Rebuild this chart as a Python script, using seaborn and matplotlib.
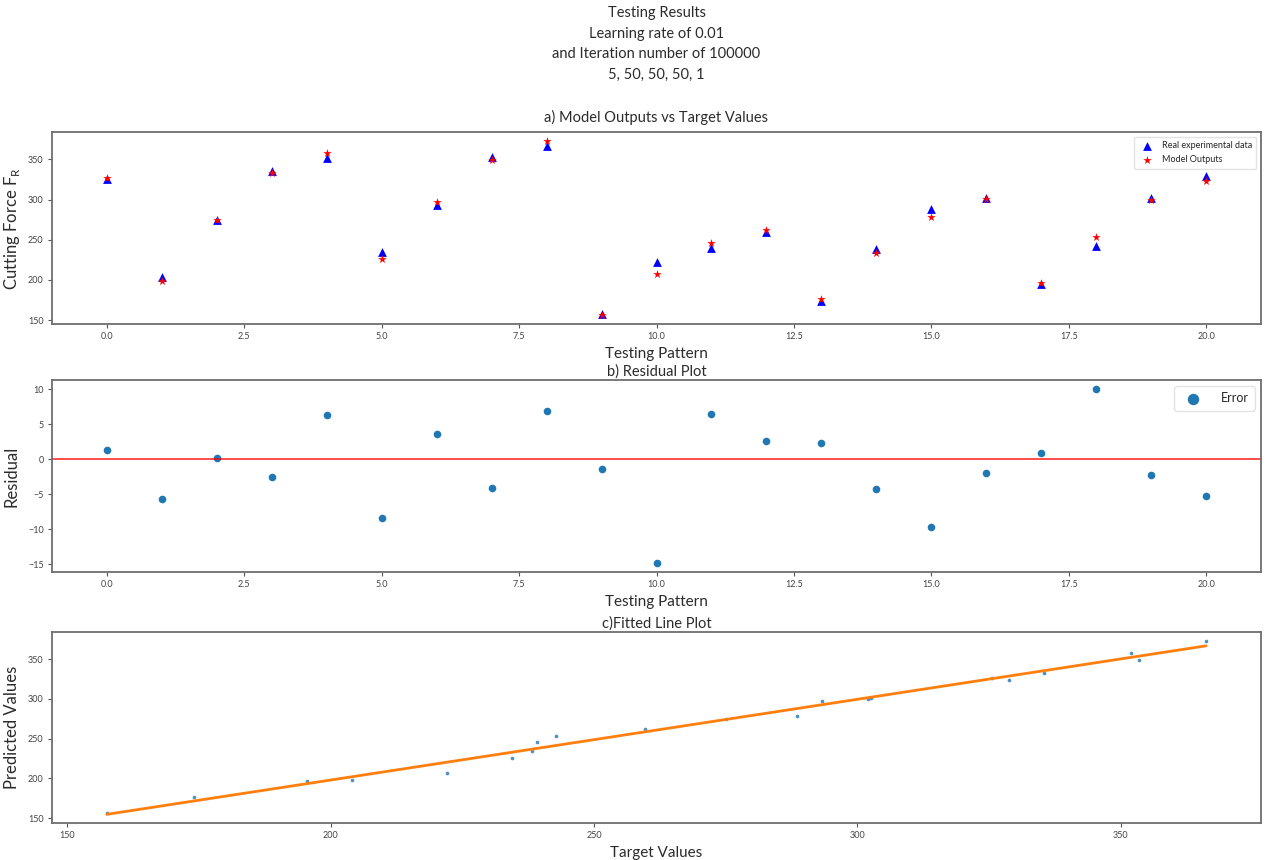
import matplotlib
matplotlib.use('Agg')
import matplotlib.pyplot as plt
import seaborn as sns

# ── data ────────────────────────────────────────────────────
pattern = list(range(21))
real_data = [325.5, 204.0, 275.0, 335.5, 352.0, 234.5, 293.3, 353.5, 366.2, 157.5,
             222.1, 239.2, 259.6, 174.0, 238.2, 288.6, 302.5, 195.5, 242.8, 302.1, 328.8]
model_out = [326.8, 198.3, 275.2, 332.9, 358.3, 226.1, 297.0, 349.4, 373.2, 156.1,
             207.2, 245.6, 262.2, 176.3, 233.9, 278.9, 300.6, 196.4, 252.9, 299.8, 323.6]
residual = [1.33, -5.67, 0.19, -2.57, 6.33, -8.38, 3.67, -4.10, 6.95, -1.38,
            -14.86, 6.43, 2.57, 2.33, -4.29, -9.67, -1.95, 0.90, 10.10, -2.29, -5.19]

title_lines = ["Testing Results", "Learning rate of 0.01",
               "and Iteration number of 100000", "5, 50, 50, 50, 1"]

sns.set_style('white')
plt.rcParams['font.family'] = ['Lato', 'DejaVu Sans']
plt.rcParams['axes.edgecolor'] = '#6e6e6e'
plt.rcParams['axes.linewidth'] = 1.3

TXT = '#2b2b2b'
W, H = 1268, 860
fig = plt.figure(figsize=(W / 100, H / 100), dpi=100)

def box(top, bottom, left=52, right=1261):
    return [left / W, 1 - bottom / H, (right - left) / W, (bottom - top) / H]

ax1 = fig.add_axes(box(132, 324))
ax2 = fig.add_axes(box(380, 572))
ax3 = fig.add_axes(box(632, 823))

# ── figure title ─────────────────────────────────────────────
cx = (52 + 1261) / 2 / W
for i, line in enumerate(title_lines):
    fig.text(cx, 1 - (13 + i * 20.7) / H, line, ha='center', va='center',
             fontsize=10.5, color=TXT)

# ── a) Model outputs vs target ──────────────────────────────
sns.scatterplot(x=pattern, y=real_data, marker='^', color='blue', s=40,
                linewidth=0, label='Real experimental data', ax=ax1)
sns.scatterplot(x=pattern, y=model_out, marker='*', color='red', s=40,
                linewidth=0, label='Model Outputs', ax=ax1)
ax1.set_title('a) Model Outputs vs Target Values', fontsize=10.5, color=TXT, pad=7)
ax1.set_xlabel('Testing Pattern', fontsize=11, color=TXT, labelpad=4)
ax1.set_ylabel('Cutting Force F$_\\mathregular{R}$', fontsize=12, color=TXT, labelpad=4)
ax1.legend(loc='upper right', fontsize=6.5, frameon=True, edgecolor='#dddddd',
           handletextpad=0.6, borderpad=0.5, labelspacing=0.6)

# ── b) Residual plot ────────────────────────────────────────
sns.scatterplot(x=pattern, y=residual, color='#1f77b4', s=30, linewidth=0,
                label='Error', ax=ax2)
ax2.axhline(0, color='red', lw=1.4, alpha=0.7)
ax2.set_title('b) Residual Plot', fontsize=10.5, color=TXT, pad=3)
ax2.set_xlabel('Testing Pattern', fontsize=11, color=TXT, labelpad=4)
ax2.set_ylabel('Residual', fontsize=12, color=TXT, labelpad=6)
ax2.legend(loc='upper right', fontsize=9, markerscale=1.5, frameon=True,
           edgecolor='#dddddd', handletextpad=1.2, borderpad=0.5)

# ── c) Fitted line plot ─────────────────────────────────────
sns.regplot(x=real_data, y=model_out, ci=None, ax=ax3,
            scatter_kws={'s': 7, 'color': '#1f77b4', 'linewidths': 0},
            line_kws={'color': '#ff7f0e', 'lw': 2})
ax3.set_title('c)Fitted Line Plot', fontsize=10.5, color=TXT, pad=3)
ax3.set_xlabel('Target Values', fontsize=11, color=TXT, labelpad=4)
ax3.set_ylabel('Predicted Values', fontsize=12, color=TXT, labelpad=6)
ax3.set_yticks([150, 200, 250, 300, 350])

for ax in (ax1, ax2, ax3):
    ax.tick_params(axis='both', which='both', bottom=True, left=True, length=3,
                   width=0.8, color='#555555', labelsize=6.5, labelcolor='#444444', pad=3)

fig.savefig('out.png', dpi=100)
